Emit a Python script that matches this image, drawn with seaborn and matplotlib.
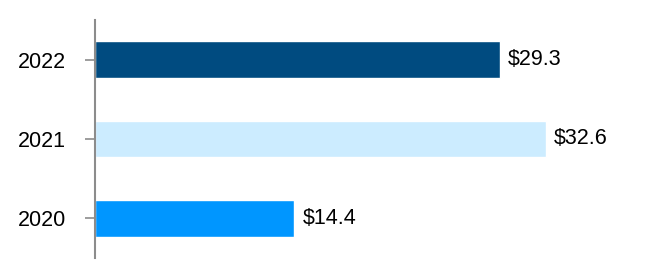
import matplotlib
matplotlib.use("Agg")
import matplotlib.pyplot as plt
import seaborn as sns
import pandas as pd

years = ["2022", "2021", "2020"]
values = [29.3, 32.6, 14.4]
labels = ["$29.3", "$32.6", "$14.4"]
colors = ["#004B80", "#CCECFF", "#0096FF"]

sns.set_theme(style="white")
plt.rcParams["font.family"] = ["Liberation Sans", "DejaVu Sans"]

df = pd.DataFrame({"year": years, "value": values})

fig = plt.figure(figsize=(6.72, 2.76), dpi=100)
W, H = 672, 276
left, right, top, bottom = 95, 640, 20, 258
ax = fig.add_axes([left / W, (H - bottom) / H, (right - left) / W, (bottom - top) / H])

sns.barplot(data=df, x="value", y="year", hue="year", palette=colors,
            order=years, hue_order=years, legend=False, width=0.465,
            saturation=1, ax=ax)

ax.set_xlim(0, (right - left) / 13.82)
ax.set_ylim(2.5, -0.5)

for s in ["top", "right", "bottom"]:
    ax.spines[s].set_visible(False)
ax.spines["left"].set_color("#8C8C8C")
ax.spines["left"].set_linewidth(1.5)
ax.set_xticks([])
ax.tick_params(axis="y", length=7, width=1.2, color="#8C8C8C", pad=14, labelsize=15.5,
               labelcolor="black", left=True)
ax.set_xlabel("")
ax.set_ylabel("")

for t in list(ax.texts):
    t.remove()
for c in ax.containers:
    for bar in c:
        yc = bar.get_y() + bar.get_height() / 2
        idx = int(round(yc))
        ax.annotate(labels[idx], (bar.get_width(), yc), xytext=(6, 0),
                    textcoords="offset points", va="center", ha="left",
                    fontsize=15.5, color="black")

fig.savefig("out.png", dpi=100)
